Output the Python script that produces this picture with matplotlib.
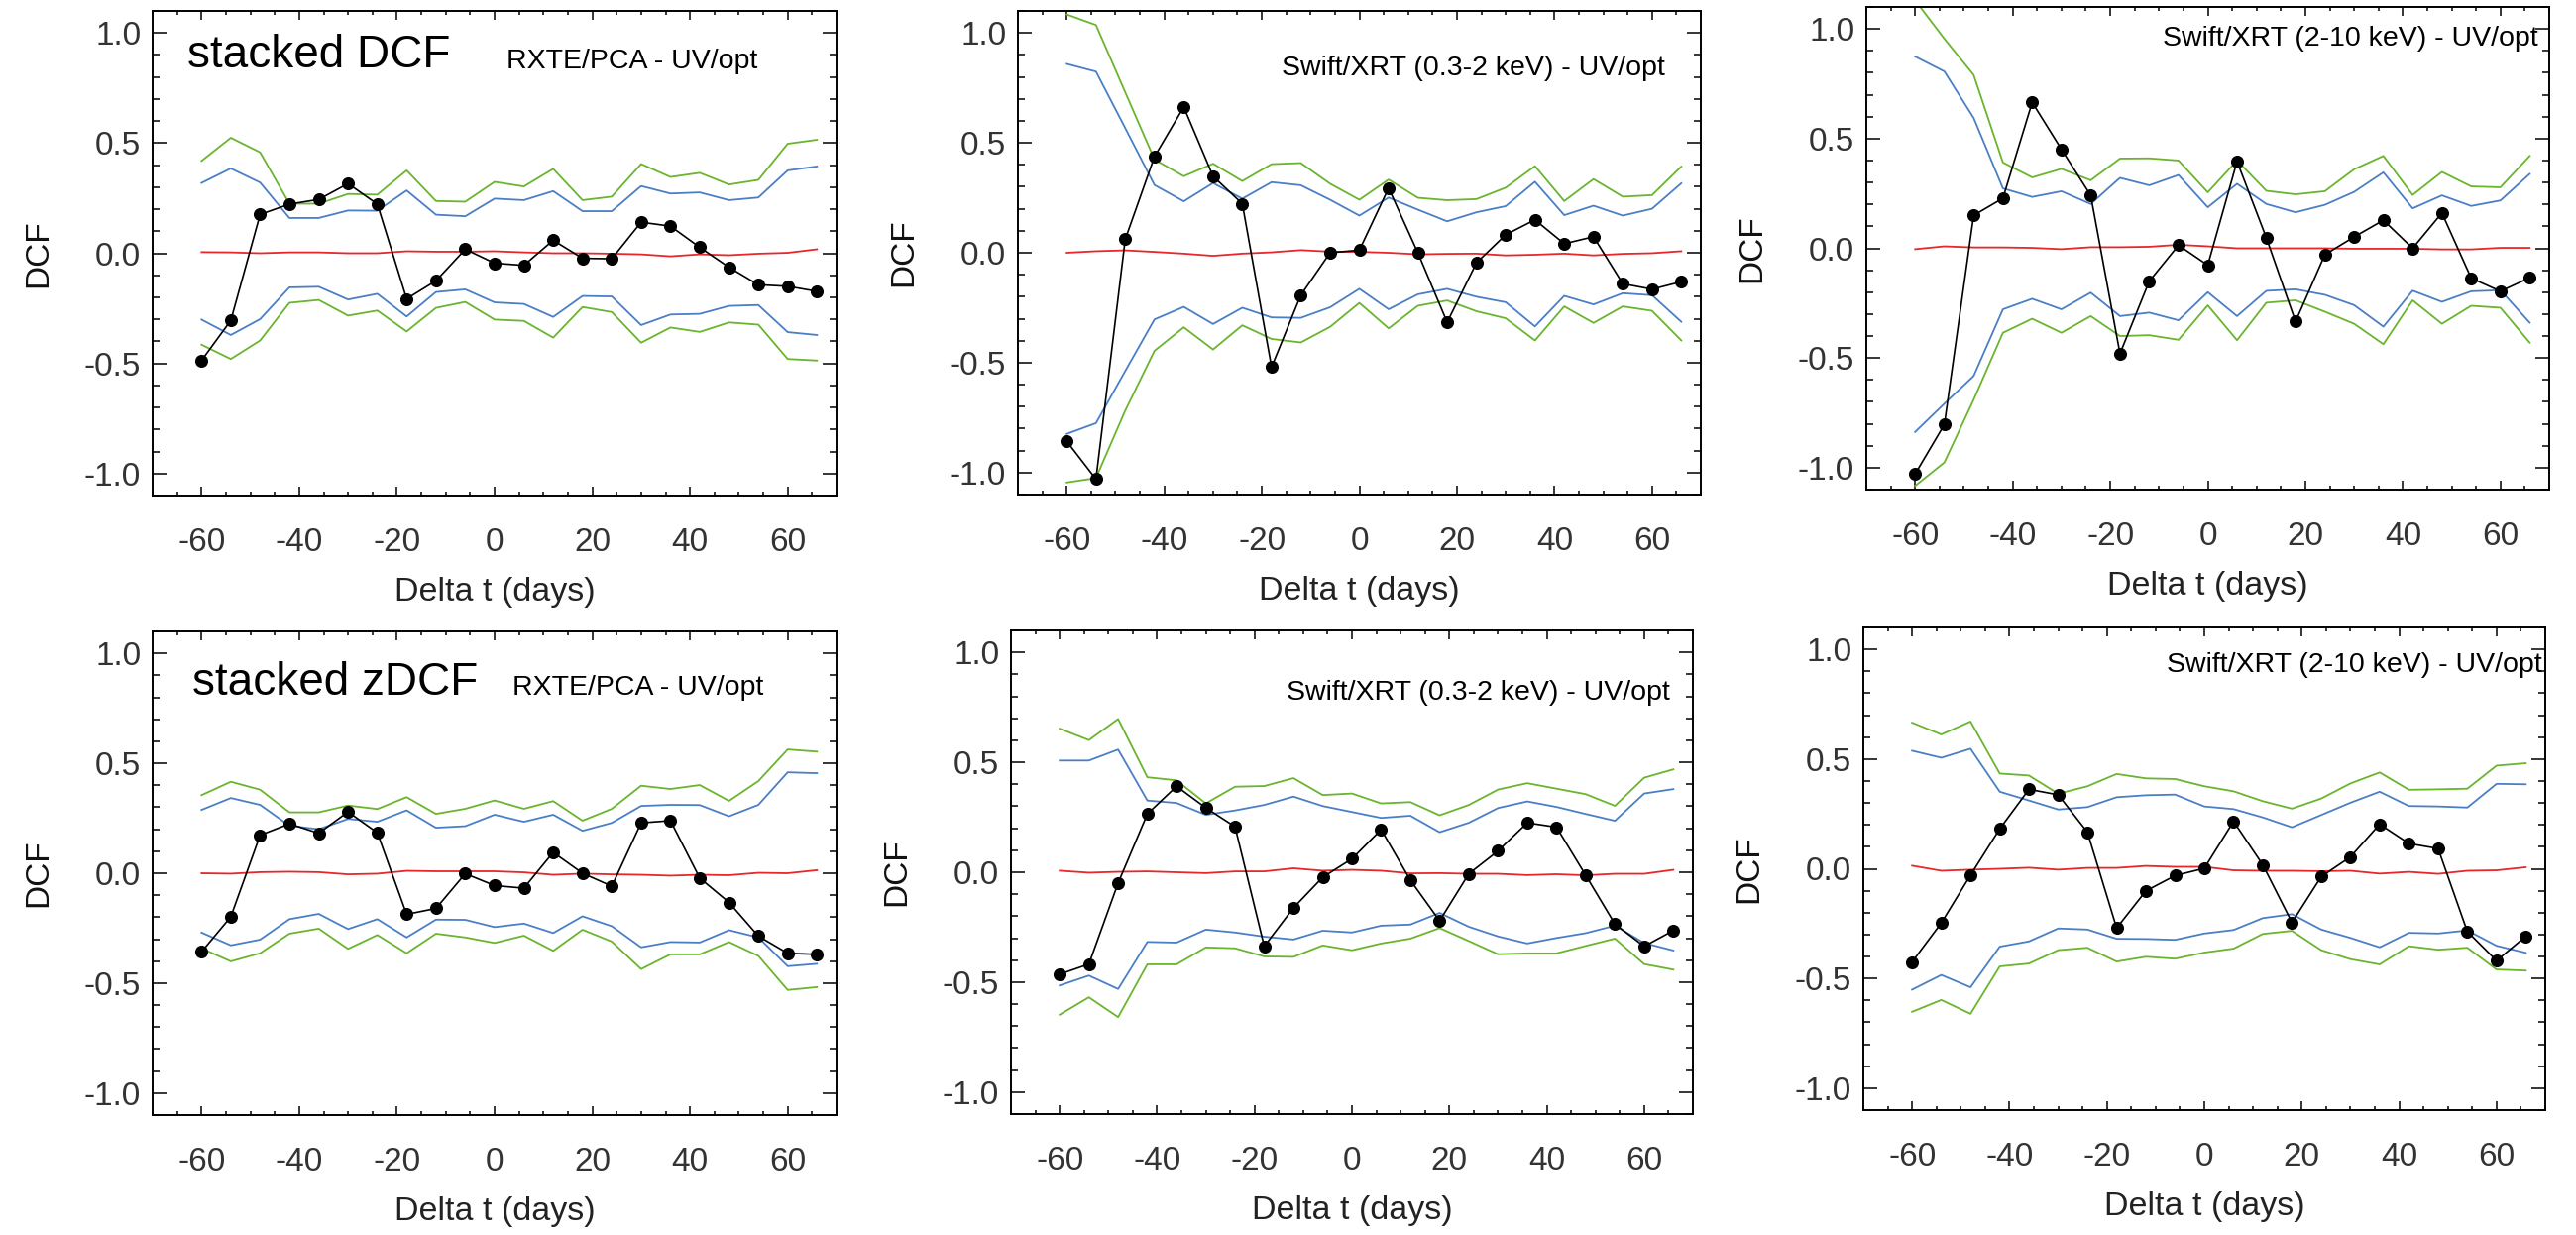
import matplotlib
matplotlib.use("Agg")
import matplotlib.pyplot as plt
from matplotlib.ticker import MultipleLocator, FormatStrFormatter

plt.rcParams['font.family'] = ['Liberation Sans', 'DejaVu Sans']
plt.rcParams['axes.unicode_minus'] = False

# ---------------- data ----------------
lags = [-60, -54, -48, -42, -36, -30, -24, -18, -12, -6, 0, 6, 12, 18, 24, 30, 36, 42, 48, 54, 60, 66]

# top-left: stacked DCF, RXTE/PCA - UV/opt
dcf_a = [-0.487, -0.305, 0.176, 0.223, 0.244, 0.316, 0.223, -0.207, -0.125, 0.018, -0.045, -0.055, 0.059, -0.023, -0.025, 0.141, 0.123, 0.027, -0.064, -0.143, -0.150, -0.173]
g_hi_a = [0.419, 0.524, 0.458, 0.225, 0.225, 0.269, 0.266, 0.376, 0.237, 0.234, 0.324, 0.303, 0.383, 0.241, 0.257, 0.405, 0.346, 0.365, 0.312, 0.333, 0.497, 0.515]
b_hi_a = [0.319, 0.385, 0.321, 0.160, 0.160, 0.194, 0.193, 0.285, 0.175, 0.168, 0.248, 0.241, 0.282, 0.191, 0.191, 0.305, 0.271, 0.276, 0.241, 0.253, 0.376, 0.394]
b_lo_a = [-0.301, -0.371, -0.299, -0.155, -0.152, -0.210, -0.184, -0.287, -0.176, -0.164, -0.223, -0.230, -0.289, -0.194, -0.196, -0.326, -0.278, -0.275, -0.239, -0.235, -0.358, -0.371]
g_lo_a = [-0.415, -0.480, -0.396, -0.225, -0.212, -0.283, -0.260, -0.355, -0.248, -0.221, -0.301, -0.307, -0.383, -0.244, -0.267, -0.406, -0.337, -0.357, -0.314, -0.324, -0.480, -0.487]
red_a = [0.005, 0.004, 0.0, 0.004, 0.004, 0.0, 0.0, 0.009, 0.007, 0.007, 0.009, 0.004, 0.0, 0.0, -0.002, -0.005, -0.014, -0.005, -0.009, -0.002, 0.002, 0.018]

# top-middle: Swift/XRT (0.3-2 keV) - UV/opt, DCF
dcf_b = [-0.857, -1.030, 0.061, 0.437, 0.663, 0.348, 0.223, -0.520, -0.193, 0.000, 0.012, 0.294, 0.000, -0.316, -0.046, 0.082, 0.150, 0.041, 0.073, -0.141, -0.166, -0.132]
g_hi_b = [1.084, 1.036, 0.730, 0.424, 0.348, 0.405, 0.326, 0.403, 0.408, 0.314, 0.241, 0.333, 0.250, 0.239, 0.244, 0.296, 0.394, 0.235, 0.335, 0.255, 0.262, 0.392]
b_hi_b = [0.859, 0.824, 0.567, 0.308, 0.234, 0.317, 0.246, 0.321, 0.307, 0.241, 0.169, 0.251, 0.196, 0.143, 0.184, 0.212, 0.323, 0.171, 0.214, 0.169, 0.200, 0.316]
b_lo_b = [-0.824, -0.775, -0.538, -0.303, -0.246, -0.324, -0.250, -0.294, -0.296, -0.248, -0.164, -0.257, -0.189, -0.164, -0.200, -0.225, -0.335, -0.196, -0.235, -0.184, -0.193, -0.314]
g_lo_b = [-1.045, -1.025, -0.718, -0.446, -0.339, -0.440, -0.330, -0.392, -0.408, -0.337, -0.228, -0.344, -0.241, -0.217, -0.266, -0.298, -0.399, -0.244, -0.319, -0.244, -0.264, -0.399]
red_b = [0.0, 0.007, 0.011, 0.004, -0.004, -0.014, -0.004, 0.002, 0.012, 0.005, 0.004, 0.0, -0.007, -0.005, -0.004, -0.012, -0.009, -0.004, -0.012, -0.005, -0.002, 0.007]

# top-right: Swift/XRT (2-10 keV) - UV/opt, DCF
dcf_c = [-1.029, -0.803, 0.150, 0.228, 0.665, 0.451, 0.241, -0.480, -0.150, 0.014, -0.077, 0.396, 0.048, -0.334, -0.029, 0.052, 0.128, 0.000, 0.161, -0.136, -0.196, -0.134]
g_hi_c = [1.130, 0.955, 0.790, 0.391, 0.323, 0.362, 0.310, 0.409, 0.410, 0.400, 0.255, 0.400, 0.262, 0.246, 0.260, 0.360, 0.421, 0.243, 0.348, 0.282, 0.278, 0.421]
b_hi_c = [0.874, 0.806, 0.594, 0.273, 0.234, 0.260, 0.202, 0.321, 0.287, 0.334, 0.187, 0.294, 0.202, 0.164, 0.198, 0.257, 0.346, 0.182, 0.241, 0.193, 0.218, 0.339]
b_lo_c = [-0.837, -0.708, -0.582, -0.278, -0.230, -0.278, -0.202, -0.309, -0.293, -0.328, -0.200, -0.309, -0.194, -0.187, -0.212, -0.259, -0.357, -0.193, -0.244, -0.196, -0.191, -0.339]
g_lo_c = [-1.083, -0.976, -0.690, -0.385, -0.321, -0.385, -0.309, -0.400, -0.396, -0.417, -0.260, -0.419, -0.248, -0.237, -0.289, -0.344, -0.437, -0.237, -0.344, -0.262, -0.271, -0.430]
red_c = [-0.004, 0.009, 0.004, 0.004, 0.002, -0.004, 0.005, 0.005, 0.007, 0.016, 0.009, 0.0, 0.0, 0.0, 0.0, -0.002, -0.002, -0.002, -0.005, -0.005, 0.002, 0.002]

# bottom-left: stacked zDCF, RXTE/PCA - UV/opt
dcf_d = [-0.358, -0.198, 0.173, 0.225, 0.182, 0.279, 0.184, -0.187, -0.160, -0.002, -0.056, -0.068, 0.095, 0.000, -0.059, 0.229, 0.239, -0.022, -0.133, -0.286, -0.364, -0.369]
g_hi_d = [0.355, 0.416, 0.380, 0.277, 0.277, 0.308, 0.292, 0.346, 0.270, 0.293, 0.331, 0.293, 0.328, 0.239, 0.293, 0.398, 0.383, 0.401, 0.329, 0.419, 0.563, 0.553]
b_hi_d = [0.288, 0.342, 0.311, 0.216, 0.200, 0.247, 0.234, 0.286, 0.207, 0.214, 0.266, 0.234, 0.266, 0.193, 0.229, 0.306, 0.311, 0.310, 0.259, 0.311, 0.459, 0.455]
b_lo_d = [-0.270, -0.328, -0.302, -0.209, -0.185, -0.254, -0.209, -0.292, -0.211, -0.212, -0.245, -0.229, -0.272, -0.196, -0.241, -0.337, -0.313, -0.315, -0.259, -0.292, -0.423, -0.412]
g_lo_d = [-0.342, -0.401, -0.364, -0.275, -0.252, -0.344, -0.281, -0.364, -0.275, -0.292, -0.317, -0.284, -0.353, -0.257, -0.311, -0.436, -0.369, -0.369, -0.313, -0.376, -0.531, -0.518]
red_d = [0.0, -0.002, 0.005, 0.007, 0.005, -0.005, -0.002, 0.011, 0.009, 0.009, 0.009, 0.004, -0.007, -0.002, -0.005, -0.007, -0.011, -0.007, -0.009, 0.002, 0.0, 0.014]

# bottom-middle: Swift/XRT (0.3-2 keV) - UV/opt, zDCF
dcf_e = [-0.464, -0.418, -0.049, 0.265, 0.391, 0.293, 0.207, -0.337, -0.162, -0.023, 0.061, 0.194, -0.036, -0.221, -0.007, 0.097, 0.225, 0.205, -0.014, -0.236, -0.337, -0.265]
g_hi_e = [0.653, 0.601, 0.697, 0.432, 0.418, 0.313, 0.389, 0.392, 0.428, 0.351, 0.358, 0.313, 0.319, 0.259, 0.306, 0.376, 0.405, 0.380, 0.355, 0.302, 0.430, 0.468]
b_hi_e = [0.508, 0.508, 0.558, 0.326, 0.315, 0.261, 0.281, 0.306, 0.344, 0.301, 0.274, 0.247, 0.257, 0.182, 0.225, 0.292, 0.322, 0.297, 0.265, 0.234, 0.358, 0.378]
b_lo_e = [-0.515, -0.470, -0.531, -0.317, -0.320, -0.261, -0.274, -0.293, -0.306, -0.266, -0.274, -0.243, -0.238, -0.185, -0.248, -0.292, -0.324, -0.299, -0.277, -0.243, -0.322, -0.356]
g_lo_e = [-0.648, -0.569, -0.659, -0.419, -0.419, -0.342, -0.346, -0.383, -0.385, -0.333, -0.355, -0.324, -0.302, -0.254, -0.313, -0.373, -0.369, -0.369, -0.335, -0.302, -0.418, -0.443]
red_e = [0.007, -0.002, 0.002, 0.004, 0.0, -0.004, 0.004, 0.004, 0.018, 0.007, 0.011, 0.007, -0.005, -0.004, -0.007, -0.007, -0.013, -0.009, -0.014, -0.007, -0.007, 0.011]

# bottom-right: Swift/XRT (2-10 keV) - UV/opt, zDCF
dcf_f = [-0.425, -0.247, -0.029, 0.182, 0.362, 0.337, 0.167, -0.270, -0.101, -0.031, 0.002, 0.216, 0.018, -0.245, -0.036, 0.054, 0.203, 0.115, 0.092, -0.286, -0.419, -0.308]
g_hi_f = [0.666, 0.612, 0.671, 0.434, 0.425, 0.342, 0.376, 0.432, 0.412, 0.409, 0.376, 0.353, 0.308, 0.274, 0.320, 0.389, 0.439, 0.360, 0.362, 0.365, 0.470, 0.481]
b_hi_f = [0.538, 0.506, 0.547, 0.351, 0.311, 0.270, 0.281, 0.326, 0.335, 0.338, 0.284, 0.272, 0.234, 0.189, 0.245, 0.301, 0.351, 0.286, 0.284, 0.279, 0.387, 0.385]
b_lo_f = [-0.551, -0.484, -0.540, -0.355, -0.331, -0.272, -0.277, -0.319, -0.320, -0.324, -0.295, -0.279, -0.225, -0.207, -0.277, -0.315, -0.358, -0.292, -0.295, -0.281, -0.351, -0.383]
g_lo_f = [-0.652, -0.598, -0.661, -0.445, -0.432, -0.371, -0.360, -0.423, -0.401, -0.410, -0.382, -0.364, -0.297, -0.283, -0.371, -0.412, -0.436, -0.353, -0.369, -0.360, -0.459, -0.464]
red_f = [0.014, -0.009, -0.004, 0.0, 0.005, -0.004, 0.004, 0.004, 0.013, 0.009, 0.009, -0.007, -0.009, -0.009, -0.011, -0.009, -0.022, -0.014, -0.023, -0.009, -0.007, 0.007]

panel_labels = ["stacked DCF", "", "", "stacked zDCF", "", ""]
panel_titles = ["RXTE/PCA - UV/opt", "Swift/XRT (0.3-2 keV) - UV/opt", "Swift/XRT (2-10 keV) - UV/opt",
                "RXTE/PCA - UV/opt", "Swift/XRT (0.3-2 keV) - UV/opt", "Swift/XRT (2-10 keV) - UV/opt"]
x_label = "Delta t (days)"
y_label = "DCF"

panels = [
    (dcf_a, g_hi_a, b_hi_a, b_lo_a, g_lo_a, red_a),
    (dcf_b, g_hi_b, b_hi_b, b_lo_b, g_lo_b, red_b),
    (dcf_c, g_hi_c, b_hi_c, b_lo_c, g_lo_c, red_c),
    (dcf_d, g_hi_d, b_hi_d, b_lo_d, g_lo_d, red_d),
    (dcf_e, g_hi_e, b_hi_e, b_lo_e, g_lo_e, red_e),
    (dcf_f, g_hi_f, b_hi_f, b_lo_f, g_lo_f, red_f),
]

# ---------------- layout ----------------
W, H = 2599, 1246
# axes boxes in pixels: (left, top, right, bottom)
boxes = [(154, 11, 844, 500), (1027, 11, 1716, 499), (1883, 7, 2572, 494),
         (154, 637, 844, 1125), (1020, 636, 1708, 1124), (1880, 633, 2568, 1120)]

# text placement (data coords)
label_pos = [(-62.8, 0.845), None, None, (-61.8, 0.81), None, None]
title_pos = [(2.5, 0.84, 'left'), (62.7, 0.805, 'right'), (67.7, 0.922, 'right'),
             (3.7, 0.81, 'left'), (65.2, 0.783, 'right'), (69.3, 0.895, 'right')]

GREEN = '#6ab42e'
BLUE = '#4a7fc6'
RED = '#e8272a'

fig = plt.figure(figsize=(W / 100, H / 100), dpi=100)

for i, (box, data) in enumerate(zip(boxes, panels)):
    l, t, r, b = box
    ax = fig.add_axes([l / W, 1 - b / H, (r - l) / W, (b - t) / H])
    dcf, g_hi, b_hi, b_lo, g_lo, red = data
    ax.plot(lags, g_hi, color=GREEN, lw=1.3)
    ax.plot(lags, g_lo, color=GREEN, lw=1.3)
    ax.plot(lags, b_hi, color=BLUE, lw=1.3)
    ax.plot(lags, b_lo, color=BLUE, lw=1.3)
    ax.plot(lags, red, color=RED, lw=1.3)
    ax.plot(lags, dcf, color='black', lw=1.2, marker='o', ms=8.4, zorder=5)

    ax.set_xlim(-70, 70)
    ax.set_ylim(-1.1, 1.1)
    ax.xaxis.set_major_locator(MultipleLocator(20))
    ax.xaxis.set_minor_locator(MultipleLocator(5))
    ax.yaxis.set_major_locator(MultipleLocator(0.5))
    ax.yaxis.set_minor_locator(MultipleLocator(0.1))
    ax.yaxis.set_major_formatter(FormatStrFormatter('%.1f'))
    ax.tick_params(axis='both', which='both', direction='in', top=True, right=True,
                   colors='black', labelcolor='#333333', labelsize=24, width=1.1)
    ax.tick_params(axis='x', which='major', length=6.7, pad=23)
    ax.tick_params(axis='x', which='minor', length=3.0)
    ax.tick_params(axis='y', which='major', length=10, pad=8.5)
    ax.tick_params(axis='y', which='minor', length=5)
    for sp in ax.spines.values():
        sp.set_linewidth(1.4)

    ax.set_xlabel(x_label, fontsize=24.5, color='#222222')
    ax.xaxis.set_label_coords(0.5, -0.168)
    ax.set_ylabel(y_label, fontsize=24, color='#111111')
    ax.yaxis.set_label_coords(-0.145, 0.5)

    if label_pos[i] is not None:
        ax.text(label_pos[i][0], label_pos[i][1], panel_labels[i], fontsize=33,
                ha='left', va='baseline', color='black')
    tx, ty, tha = title_pos[i]
    ax.text(tx, ty, panel_titles[i], fontsize=20.5, ha=tha, va='baseline', color='black')

fig.savefig('out.png', dpi=100)
